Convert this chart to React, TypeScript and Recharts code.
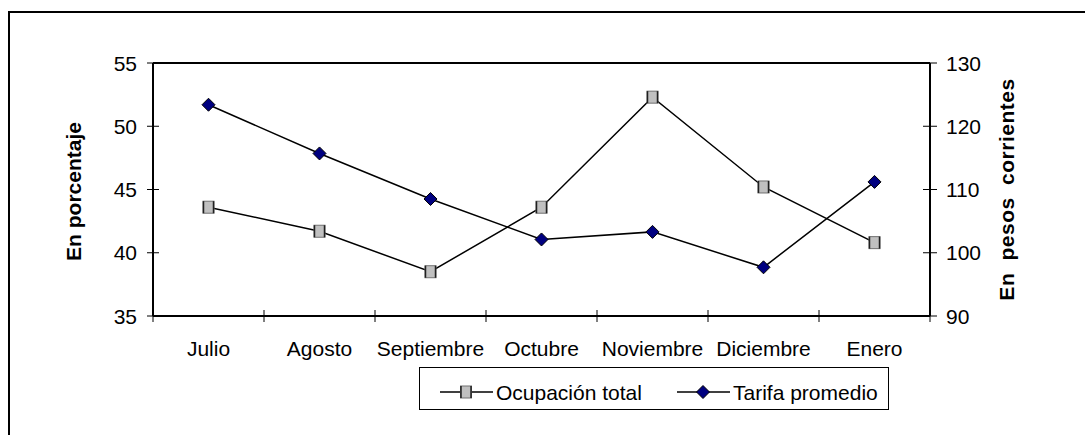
import React from 'react';
import { LineChart, Line, XAxis, YAxis, ReferenceLine } from 'recharts';

const months = ['Julio', 'Agosto', 'Septiembre', 'Octubre', 'Noviembre', 'Diciembre', 'Enero'];
const ocupacion = [43.6, 41.7, 38.5, 43.6, 52.3, 45.2, 40.8];
const tarifa = [123.4, 115.7, 108.5, 102.1, 103.3, 97.7, 111.2];
const leftTicks = [35, 40, 45, 50, 55];
const rightTicks = [90, 100, 110, 120, 130];
const seriesNames = ['Ocupación total', 'Tarifa promedio'];
const leftTitle = 'En porcentaje';
const rightTitle = 'En pesos corrientes';

const data = months.map((m, i) => ({ month: m, ocupacion: ocupacion[i], tarifa: tarifa[i] }));

const W = 1085;
const H = 435;
const LEFT_W = 153;
const RIGHT_W = 155;
const TOP = 63;
const X_H = 119;
const PLOT_W = W - LEFT_W - RIGHT_W;
const BAND = PLOT_W / months.length;
const FONT = '"Liberation Sans", Arial, sans-serif';
const FS = 21;

const SquareDot = ({ cx, cy }: any) => (
  <g>
    <rect x={cx - 5.5} y={cy - 6} width={11} height={12} fill="#C0C0C0" stroke="#707070" strokeWidth={1} />
    <line x1={cx - 5} y1={cy - 6} x2={cx - 5} y2={cy + 6} stroke="#202020" strokeWidth={1.5} />
    <line x1={cx + 5} y1={cy - 6} x2={cx + 5} y2={cy + 6} stroke="#202020" strokeWidth={1.5} />
  </g>
);

const DiamondDot = ({ cx, cy }: any) => (
  <polygon
    points={`${cx},${cy - 6.5} ${cx + 6.5},${cy} ${cx},${cy + 6.5} ${cx - 6.5},${cy}`}
    fill="#000080"
    stroke="#000"
    strokeWidth={1}
  />
);

const XTick = ({ x, y, payload, index }: any) => (
  <g>
    <line x1={x - BAND / 2} y1={y - 6} x2={x - BAND / 2} y2={y + 6} stroke="#000" strokeWidth={1} />
    {index === months.length - 1 && (
      <line x1={x + BAND / 2} y1={y - 6} x2={x + BAND / 2} y2={y + 6} stroke="#000" strokeWidth={1} />
    )}
    <text x={x} y={y + 40} textAnchor="middle" fontSize={FS} fontFamily={FONT} fill="#000">
      {payload.value}
    </text>
  </g>
);

const LeftTick = ({ x, y, payload }: any) => (
  <g>
    <line x1={x - 6} y1={y} x2={x + 6} y2={y} stroke="#000" strokeWidth={1} />
    <text x={x - 16} y={y + 7.5} textAnchor="end" fontSize={FS} fontFamily={FONT} fill="#000">
      {payload.value}
    </text>
  </g>
);

const RightTick = ({ x, y, payload }: any) => (
  <g>
    <line x1={x - 7} y1={y} x2={x + 7} y2={y} stroke="#000" strokeWidth={1} />
    <text x={x + 16} y={y + 7.5} textAnchor="start" fontSize={FS} fontFamily={FONT} fill="#000">
      {payload.value}
    </text>
  </g>
);

const LeftLabel = ({ viewBox }: any) => {
  const cx = 81;
  const cy = viewBox.y + viewBox.height / 2 + 2;
  return (
    <text
      x={cx}
      y={cy}
      transform={`rotate(-90, ${cx}, ${cy})`}
      textAnchor="middle"
      fontSize={FS}
      fontWeight="bold"
      fontFamily={FONT}
      fill="#000"
    >
      {leftTitle}
    </text>
  );
};

const RightLabel = ({ viewBox }: any) => {
  const cx = viewBox.x + 84;
  const cy = viewBox.y + viewBox.height / 2;
  return (
    <text
      x={cx}
      y={cy}
      transform={`rotate(-90, ${cx}, ${cy})`}
      textAnchor="middle"
      fontSize={FS}
      fontWeight="bold"
      fontFamily={FONT}
      fill="#000"
      style={{ wordSpacing: 6, letterSpacing: 0.5 }}
    >
      {rightTitle}
    </text>
  );
};

export default function App() {
  return (
    <div style={{ position: 'fixed', left: 0, top: 0, width: W, height: H, overflow: 'hidden', background: '#fff' }}>
      <div
        style={{
          position: 'absolute',
          left: 8,
          top: 11,
          width: 1200,
          height: 600,
          border: '2px solid #000',
          boxSizing: 'border-box',
        }}
      />
      <div style={{ position: 'absolute', left: 0, top: 0 }}>
        <LineChart width={W} height={H} data={data} margin={{ top: TOP, right: 0, bottom: 0, left: 0 }}>
          <XAxis
            dataKey="month"
            scale="band"
            height={X_H}
            interval={0}
            tickSize={0}
            tickMargin={0}
            tick={<XTick />}
            axisLine={{ stroke: '#000', strokeWidth: 2 }}
            tickLine={false}
          />
          <YAxis
            yAxisId="left"
            orientation="left"
            width={LEFT_W}
            domain={[35, 55]}
            ticks={leftTicks}
            interval={0}
            tickSize={0}
            tickMargin={0}
            tick={<LeftTick />}
            tickLine={false}
            axisLine={{ stroke: '#000', strokeWidth: 2 }}
            label={<LeftLabel />}
          />
          <YAxis
            yAxisId="right"
            orientation="right"
            width={RIGHT_W}
            domain={[90, 130]}
            ticks={rightTicks}
            interval={0}
            tickSize={0}
            tickMargin={0}
            tick={<RightTick />}
            tickLine={false}
            axisLine={{ stroke: '#000', strokeWidth: 2 }}
            label={<RightLabel />}
          />
          <ReferenceLine yAxisId="left" y={55} stroke="#000" strokeWidth={2} />
          <Line
            yAxisId="left"
            dataKey="ocupacion"
            name={seriesNames[0]}
            stroke="#000"
            strokeWidth={1.5}
            isAnimationActive={false}
            dot={(p: any) => <SquareDot key={`s${p.index}`} cx={p.cx} cy={p.cy} />}
          />
          <Line
            yAxisId="right"
            dataKey="tarifa"
            name={seriesNames[1]}
            stroke="#000"
            strokeWidth={1.5}
            isAnimationActive={false}
            dot={(p: any) => <DiamondDot key={`d${p.index}`} cx={p.cx} cy={p.cy} />}
          />
        </LineChart>
      </div>
      <svg style={{ position: 'absolute', left: 0, top: 0 }} width={W} height={H}>
        <rect x={419.5} y={367.5} width={469} height={42} fill="#fff" stroke="#000" strokeWidth={1} />
        <line x1={440} y1={392} x2={493} y2={392} stroke="#000" strokeWidth={1.5} />
        <SquareDot cx={466} cy={392} />
        <text x={496} y={399.5} fontSize={FS} fontFamily={FONT} fill="#000">
          {seriesNames[0]}
        </text>
        <line x1={677} y1={392} x2={730} y2={392} stroke="#000" strokeWidth={1.5} />
        <DiamondDot cx={703} cy={392} />
        <text x={733} y={399.5} fontSize={FS} fontFamily={FONT} fill="#000">
          {seriesNames[1]}
        </text>
      </svg>
    </div>
  );
}
